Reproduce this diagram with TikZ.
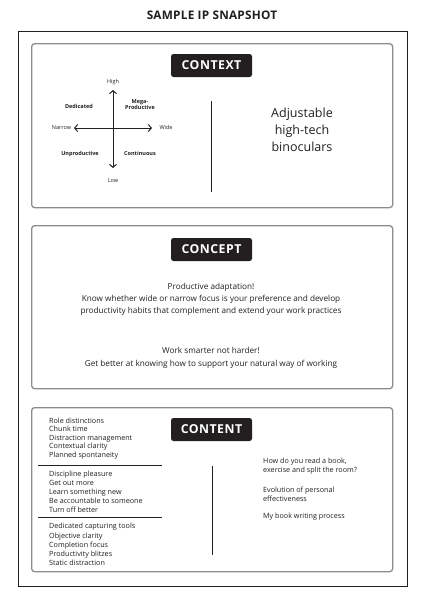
\documentclass[tikz,border=0pt]{standalone}
\usepackage{fontspec}
\setmainfont{Open Sans}
\usetikzlibrary{arrows.meta}
\definecolor{tagbg}{HTML}{231F20}
\definecolor{panelgray}{HTML}{8C8C8C}
\definecolor{inkc}{HTML}{231F20}
\begin{document}
\begin{tikzpicture}[x=1pt,y=-1pt,
  every node/.style={text=inkc},
  panel/.style={draw=panelgray, line width=1.3pt, rounded corners=3pt, minimum width=361, minimum height=164, anchor=north west, inner sep=0},
  tag/.style={fill=tagbg, text=white, rounded corners=2.5pt, minimum width=81, minimum height=23, inner sep=0, font=\fontsize{12.3}{13}\selectfont\bfseries\addfontfeatures{LetterSpace=4}},
  axislbl/.style={font=\fontsize{5.5}{6}\selectfont, inner sep=0},
  quadlbl/.style={font=\fontsize{5.5}{6.6}\selectfont\bfseries, inner sep=0, align=center},
  listtxt/.style={font=\fontsize{7.2}{9}\selectfont, inner sep=0, align=left, anchor=west},
  bodytxt/.style={font=\fontsize{8.2}{13}\selectfont, inner sep=0, align=center},
  divider/.style={line width=1pt, draw=inkc},
  axis/.style={line width=1pt, draw=inkc, {Straight Barb[length=3pt,width=7pt]}-{Straight Barb[length=3pt,width=7pt]}}
]
\useasboundingbox (0,0) rectangle (426,603);
\fill[white] (0,0) rectangle (426,603);

\node[font=\fontsize{11.8}{13}\selectfont\bfseries\addfontfeatures{LetterSpace=2}] (title) at (212,15.5) {SAMPLE IP SNAPSHOT};
\node[draw=inkc, line width=1pt, minimum width=389, minimum height=555, anchor=north west, inner sep=0] (frame) at (17.8,30.8) {};

% CONTEXT
\node[panel] (ctxpanel) at (31,43) {};
\node[tag] (ctxtag) at (211.5,65.5) {CONTEXT};
\coordinate (vtop) at (113,90);
\coordinate (vbot) at (113,168);
\coordinate (hleft) at (74,128);
\coordinate (hright) at (152,128);
\draw[axis] (vtop) -- (vbot);
\draw[axis] (hleft) -- (hright);
\node[axislbl] (high) at (113,82) {High};
\node[axislbl] (low) at (113,181) {Low};
\node[axislbl] (narrow) at (61.5,128) {Narrow};
\node[axislbl] (wide) at (166,127) {Wide};
\node[quadlbl] (dedicated) at (79,106) {Dedicated};
\node[quadlbl] (mega) at (140,104.5) {Mega-\\Productive};
\node[quadlbl] (unprod) at (80,154) {Unproductive};
\node[quadlbl] (contin) at (140,153.5) {Continuous};
\coordinate (d1a) at (211,101);
\coordinate (d1b) at (211,192);
\draw[divider] (d1a) -- (d1b);
\node[font=\fontsize{12.5}{17}\selectfont, align=center, inner sep=0] (binoc) at (302,130) {Adjustable\\high-tech\\binoculars};

% CONCEPT
\node[panel, minimum height=163] (cptpanel) at (31,225) {};
\node[tag] (cpttag) at (211.5,249.5) {CONCEPT};
\node[bodytxt] (cpt1) at (211,299.5) {Productive adaptation!\\[-0.7pt]Know whether wide or narrow focus is your preference and develop\\[-1pt]productivity habits that complement and extend your work practices};
\node[bodytxt] (cpt2) at (211,357.5) {Work smarter not harder!\\Get better at knowing how to support your natural way of working};

% CONTENT
\node[panel] (cntpanel) at (31,407) {};
\node[tag] (cnttag) at (211.5,429.5) {CONTENT};
\node[listtxt, font=\fontsize{7.2}{8.6}\selectfont] (lst1) at (49,438.5) {Role distinctions\\Chunk time\\Distraction management\\Contextual clarity\\Planned spontaneity};
\coordinate (s1a) at (38,465);
\coordinate (s1b) at (162,465);
\draw[divider] (s1a) -- (s1b);
\node[listtxt] (lst2) at (49,491.5) {Discipline pleasure\\Get out more\\Learn something new\\Be accountable to someone\\Turn off better};
\coordinate (s2a) at (38,517);
\coordinate (s2b) at (162,517);
\draw[divider] (s2a) -- (s2b);
\node[listtxt, font=\fontsize{7.2}{9.2}\selectfont] (lst3) at (49,544.5) {Dedicated capturing tools\\Objective clarity\\Completion focus\\Productivity blitzes\\Static distraction};
\coordinate (d2a) at (212,466);
\coordinate (d2b) at (212,555);
\draw[divider] (d2a) -- (d2b);
\node[listtxt] (r1) at (263,466.5) {How do you read a book,\\exercise and split the room?};
\node[listtxt] (r2) at (263,494.5) {Evolution of personal\\effectiveness};
\node[listtxt] (r3) at (263,517) {My book writing process};
\end{tikzpicture}
\end{document}
